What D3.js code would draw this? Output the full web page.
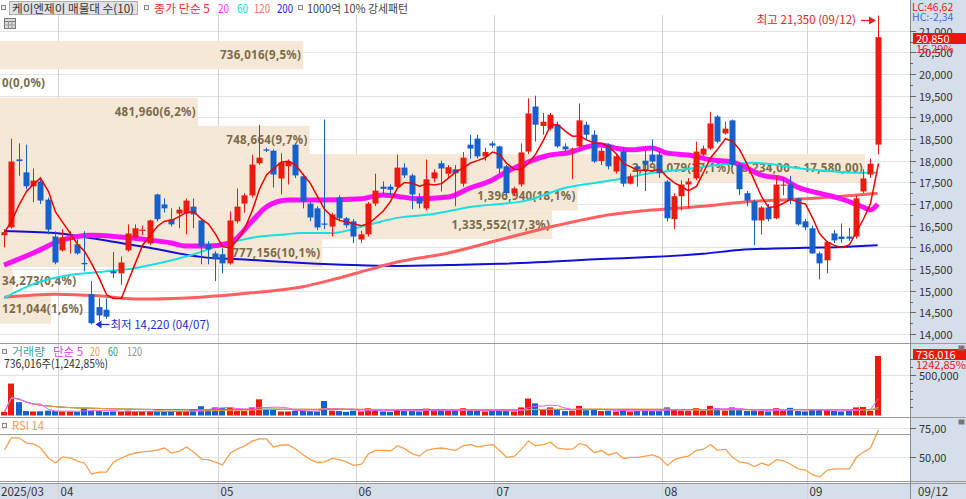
<!DOCTYPE html>
<html><head><meta charset="utf-8">
<script src="https://cdn.jsdelivr.net/npm/d3@7"></script>
<style>
html,body{margin:0;padding:0;background:#fff;overflow:hidden}
svg{display:block;font-family:"Noto Sans CJK KR","Noto Sans",sans-serif}
</style></head><body>
<svg id="c" width="966" height="499"></svg>
<script>
// ---------- DATA ----------
const opens=[16280,16460,18030,17730,17410,17520,17100,16250,15930,16180,
16070,15640,14920,14620,14560,15450,15400,15930,16230,16380,
16090,17220,16990,16650,16780,16780,16940,16620,16070,15860,
15840,15630,16600,17010,17200,17940,18260,18230,17590,17870,
18370,17640,17010,16900,16550,16480,17150,16670,16600,16180,
16300,17010,17400,17400,17400,17840,17660,17150,16900,17590,
17940,17700,17800,17470,18370,18510,18100,18400,18330,17870,
17250,17450,18210,19250,18800,18740,18830,18330,18260,18330,
18830,18600,17990,18370,17750,18210,17470,17870,18000,18140,
18140,17520,16650,17180,17450,17590,18140,18280,19020,18630,
18930,17910,17250,17060,16620,16920,16670,17430,17450,17130,
16600,16440,15860,15700,16320,16250,16250,16250,17290,17680,18370];
const highs=[16420,18510,18400,18370,17820,17610,17150,16370,16420,16370,
16180,16370,15220,14830,14820,15890,15790,16530,16530,16500,
16640,17240,17130,16900,16940,17130,17130,16640,16140,15910,
15980,16830,17360,17250,18140,18830,18300,18260,18170,18030,
18400,17700,17050,16950,18950,16800,17200,16700,16650,16380,
17050,17700,17520,17450,18140,17940,17700,17250,18030,17800,
18000,17900,17900,18200,18600,18600,18300,18450,18350,17900,
17400,18400,19440,19500,19100,19100,18900,18400,18300,19320,
18900,18700,18300,18400,18150,18300,17700,17900,18250,18490,
18200,17550,17250,17550,17600,18440,18350,19130,19050,18900,
18950,17950,17300,17100,16950,17000,17650,17600,17650,17150,
16650,16500,15900,16150,16400,16550,16450,17200,17800,18050,21350];
const lows=[16000,16430,17650,17340,17040,17000,16300,15610,15900,15860,
15830,15450,14220,14300,14350,15290,15130,15900,16200,16280,
16050,16600,16800,16480,16440,16300,16440,15610,15610,15220,
15400,15600,16550,16800,17150,17900,18200,17380,17220,17450,
17600,16900,16600,16400,16420,16250,16600,16450,16100,16100,
16250,16950,17230,17200,17350,17600,16880,16900,16850,17500,
17290,17600,16950,17400,18050,18050,18000,18300,17700,17200,
17200,17400,18150,18440,18600,18700,18300,18200,17570,18300,
18500,17950,17900,17800,17700,17400,17450,17400,17300,17950,
17600,16600,16420,16850,16900,17550,18100,18250,18400,18600,
17850,17200,16950,16050,16300,16600,16650,17200,17000,16500,
16400,15850,15260,15400,16100,16100,16150,16200,17250,17600,18150];
const closes=[16350,17980,17990,17410,17540,17080,16410,15650,16230,16210,
15860,15610,14250,14430,14400,15400,15650,16320,16440,16410,
16620,16650,16900,16530,16870,17080,16760,16020,15950,15720,
15630,16620,16940,17200,17910,18070,18230,17680,17960,17980,
17660,17060,16690,16460,16530,16760,16670,16510,16250,16300,
17010,17310,17350,17330,17840,17660,17220,17010,17570,17730,
17820,17850,17710,18070,18280,18100,18200,18350,17820,17250,
17360,18190,19090,18830,18900,19060,18330,18260,18280,18930,
18600,17980,18230,17870,18100,17470,17640,17800,17910,17980,
17710,16670,17180,17450,17520,18210,18280,18860,18440,18740,
17910,17340,17080,16620,16920,16650,17450,17450,17110,16530,
16460,15860,15630,16120,16160,16190,16200,17130,17590,17930,20850];
// volume, thousand shares
const volumeK=[45,395,165,55,50,52,60,55,50,48,
45,90,60,55,45,50,48,60,45,50,
55,50,45,48,50,52,80,115,80,100,
95,100,55,55,100,200,80,80,50,50,
60,60,55,50,180,60,55,45,60,50,
90,70,50,45,80,55,60,50,85,55,
60,55,60,90,65,60,50,55,70,60,
50,100,210,150,80,100,70,55,60,120,
65,70,55,60,50,80,50,55,60,55,
60,100,70,60,55,90,60,120,90,60,
100,70,55,60,55,50,90,60,95,55,
50,80,70,75,55,50,55,100,105,59.22,736.016];
const rsi14=[56.3,66.9,66.6,62.3,61.5,58.0,49.4,45.1,50.3,49.4,
46.8,45.1,35.6,37.3,37.3,45.9,49.4,52.0,53.7,54.6,
55.4,56.3,58.0,53.7,55.4,58.9,54.6,48.5,47.7,45.9,
43.4,53.7,57.2,59.7,64.1,65.8,65.8,58.9,60.6,60.6,
57.2,52,48,45.5,46,49,48,46,43,44,
53,56,56,55.5,60,57.5,53,51,56,57.5,
58,57,56,60,61,59,60,61,56,50,
51,57,64,60,61,63,58,57,57,62,
60,54,56,52,54,49,50,50,51,52,
50,43,48,50,51,56,57,61,56,57,
50,46,45,42,45,43,48,47,44,40,
39,35,33,39,40,40,40,50,54.5,58,73.5];
// moving averages (candle index -> price)
const ma5Head=[16350,16600,17000,17290];
const ma20Idx=[0,4,8,12,16,20,23,25,28,31,34,36,39,43,49,52,57,61,64,67,69,72,75,78,80,82,84,86,89,91,94,97,100,102,104,107,109,112,115,118,119,120];
const ma20Val=[15590,15870,16170,16280,16240,16170,16100,16030,16030,16100,16590,16930,17090,17090,17120,17210,17120,17160,17370,17550,17740,17970,18130,18200,18320,18360,18290,18250,18290,18180,18130,18020,17970,17830,17670,17580,17390,17250,17120,16930,16860,17000];
const ma60Idx=[0,4,9,13,18,22,27,29,34,38,41,45,50,54,59,64,72,77,82,86,89,93,98,103,110,118,120];
const ma60Val=[14830,15150,15360,15430,15520,15660,15890,16010,16220,16290,16330,16330,16520,16680,16770,16930,17090,17370,17510,17620,17720,17790,17900,17950,17810,17720,17720];
const ma120Idx=[0,7,13,18,20,27,34,41,45,50,54,61,68,75,82,89,96,102,110,120];
const ma120Val=[14850,14920,14880,14810,14810,14850,14950,15090,15250,15480,15660,15870,16170,16470,16720,16860,16950,17050,17120,17250];
const ma200Idx=[0,7,11,16,20,27,34,41,48,54,61,68,82,96,101,110,115,120];
const ma200Val=[16380,16330,16240,16100,15990,15780,15710,15640,15590,15570,15590,15620,15730,15850,15940,15990,16010,16050];
// price-level volume profile (매물대), top band first
const bandHigh=20760, bandStep=652;
const bandVol=[736016,0,481960,748664,2098079,1396940,1335552,777156,34273,121044];
const bandPct=[9.5,0,6.2,9.7,27.1,18.1,17.3,10.1,0.4,1.6];
const maxBandRange="(18,234,00 ~ 17,580,00)";
// axis / labels
const priceTicks=d3.range(14000,21001,500);
const monthStarts=[8,30,49,68,91,111];
const monthLabels=["04","05","06","07","08","09"];
const firstLabel="2025/03", lastLabel="09/12";
const hiVal=21350, hiDate="09/12", loVal=14220, loDate="04/07", loIdx=12;

// ---------- CHART ----------
const svg=d3.select('#c');
const N=closes.length;
const RED="#ec1a10", BLUE="#1560cc", AX="#d5dfeb";
const x=d3.scaleBand().domain(d3.range(N)).range([0.4,0.4+N*7.28]);
const cx=i=>Math.round(x(i)+x.bandwidth()/2)+0.5;
const y=d3.scaleLinear().domain([14000,21000]).range([334,30.7]);
const yv=d3.scaleLinear().domain([0,736016]).range([415.5,356]);
const yr=d3.scaleLinear().domain([50,75]).range([457.3,428.3]);
const fmt=d3.format(",");
const dec=(v,n)=>v.toFixed(n).replace('.',',');

svg.append('rect').attr('x',910).attr('y',0).attr('width',56).attr('height',499).attr('fill',AX);
svg.append('rect').attr('x',0).attr('y',483).attr('width',910).attr('height',16).attr('fill',AX);

svg.append('g').selectAll('line').data(priceTicks).join('line')
 .attr('x1',0).attr('x2',910).attr('y1',d=>Math.round(y(d))+0.5).attr('y2',d=>Math.round(y(d))+0.5)
 .attr('stroke','#e3e3e3');
svg.append('line').attr('x1',0).attr('x2',910).attr('y1',Math.round(yv(500000))+0.5).attr('y2',Math.round(yv(500000))+0.5).attr('stroke','#e3e3e3');
[[75,'#e3e3e3'],[50,'#e3e3e3'],[70,'#9a9a9a']].forEach(([v,c])=>{
 svg.append('line').attr('x1',0).attr('x2',910).attr('y1',Math.round(yr(v))+0.5).attr('y2',Math.round(yr(v))+0.5).attr('stroke',c);
});
const gx=i=>Math.round(x(i))-0.5;
svg.append('g').selectAll('line').data(monthStarts).join('line')
 .attr('x1',gx).attr('x2',gx).attr('y1',15).attr('y2',499).attr('stroke','#d4d4d4');

// volume profile bands
const bandMaxW=865, maxPct=d3.max(bandPct);
const bw=p=>p/maxPct*bandMaxW;
const bandG=svg.append('g');
bandPct.forEach((p,k)=>{
 const top=y(bandHigh-k*bandStep), bot=y(bandHigh-(k+1)*bandStep);
 if(p>0) bandG.append('rect').attr('x',0).attr('y',top).attr('width',bw(p)).attr('height',bot-top).attr('fill','#f6e8d6');
});
const lblG=svg.append('g').attr('font-size',11.5).attr('font-weight',700).attr('fill','#7d6a48').attr('font-family','"Noto Sans","Noto Sans CJK KR",sans-serif').attr('letter-spacing',0.3);
bandPct.forEach((p,k)=>{
 const top=y(bandHigh-k*bandStep), bot=y(bandHigh-(k+1)*bandStep);
 let s=fmt(bandVol[k])+"("+dec(p,1)+"%)";
 if(p===maxPct) s+=maxBandRange;
 const t=lblG.append('text').attr('y',(top+bot)/2+4).text(s);
 const w=t.node().getComputedTextLength();
 if(w+4<bw(p)) t.attr('x',bw(p)-2).attr('text-anchor','end'); else t.attr('x',2);
});

// moving averages
const line=d3.line().curve(d3.curveMonotoneX);
function ma(idx,val,color,w){
 svg.append('path').attr('d',line(idx.map((i,k)=>[x(i)+x.bandwidth()/2,y(val[k])]))).attr('fill','none').attr('stroke',color).attr('stroke-width',w).attr('stroke-linejoin','round');
}
ma(ma200Idx,ma200Val,'#1010d8',2);
ma(ma120Idx,ma120Val,'#ff6060',3);
ma(ma60Idx,ma60Val,'#18e0e0',2);
ma(ma20Idx,ma20Val,'#ff10ff',5);

// candles
const cg=svg.append('g');
closes.forEach((c,i)=>{
 const o=opens[i], up=c>=o, col=up?RED:BLUE;
 cg.append('line').attr('x1',cx(i)).attr('x2',cx(i)).attr('y1',y(highs[i])).attr('y2',y(lows[i])).attr('stroke',col).attr('stroke-width',1);
 const t=y(Math.max(o,c)), b=y(Math.min(o,c));
 cg.append('rect').attr('x',cx(i)-3).attr('y',t).attr('width',6).attr('height',Math.max(1.2,b-t)).attr('fill',col);
});
const ma5=closes.map((c,i)=>i<4?ma5Head[i]:d3.mean(closes.slice(i-4,i+1)));
svg.append('path').attr('d',d3.line()(ma5.map((v,i)=>[cx(i),y(v)]))).attr('fill','none').attr('stroke','#f00000').attr('stroke-width',1.5);

// high / low annotations
svg.append('text').attr('x',856).attr('y',24).attr('text-anchor','end').attr('font-size',11.5).attr('fill','#e82020').text('최고 '+fmt(hiVal)+' ('+hiDate+')');
svg.append('line').attr('x1',861).attr('x2',872).attr('y1',20.5).attr('y2',20.5).attr('stroke','#e82020').attr('stroke-width',1.3);
svg.append('path').attr('d','M876,20.5 L869,16.5 L869,24.5 Z').attr('fill','#e82020');
const lx=cx(loIdx)+4, ly=Math.round(y(loVal))+0.5;
svg.append('path').attr('d',`M${lx},${ly} L${lx+6},${ly-4} L${lx+6},${ly+4} Z`).attr('fill','#2030d0');
svg.append('line').attr('x1',lx+5).attr('x2',lx+14).attr('y1',ly).attr('y2',ly).attr('stroke','#2030d0').attr('stroke-width',1.3);
svg.append('text').attr('x',lx+15).attr('y',ly+4).attr('font-size',11.5).attr('fill','#2030d0').text('최저 '+fmt(loVal)+' ('+loDate+')');

// volume bars
const vols=volumeK.map(v=>v*1000);
const vg=svg.append('g');
vols.forEach((v,i)=>{
 const col=closes[i]>=opens[i]?RED:BLUE;
 vg.append('rect').attr('x',cx(i)-3.5).attr('y',yv(v)).attr('width',6).attr('height',yv(0)-yv(v)).attr('fill',col);
});
const vma=n=>vols.map((_,i)=>d3.mean(vols.slice(Math.max(0,i-n+1),i+1)));
[[120,'#a8a8a8'],[60,'#38a050'],[20,'#f0a030'],[5,'#ff50ff']].forEach(([n,c])=>{
 svg.append('path').attr('d',d3.line()(vma(n).map((v,i)=>[cx(i),yv(v)]))).attr('fill','none').attr('stroke',c).attr('stroke-width',1);
});

// RSI line
svg.append('path').attr('d',d3.line()(rsi14.map((v,i)=>[cx(i),yr(v)]))).attr('fill','none').attr('stroke','#f7a050').attr('stroke-width',1.3);

// pane separators
[343.5,417.5,481.5,483.5].forEach(yy=>{
 svg.append('line').attr('x1',0).attr('x2',966).attr('y1',yy).attr('y2',yy).attr('stroke','#9a9a9a');
});
svg.append('line').attr('x1',910.5).attr('x2',910.5).attr('y1',0).attr('y2',499).attr('stroke','#8a8a8a');

// right axis: price
const FS=11;
const ax=svg.append('g').attr('font-size',FS).attr('fill','#333');
d3.range(14000,21001,250).forEach(p=>{
 const yy=Math.round(y(p))+0.5, major=p%500===0;
 ax.append('line').attr('x1',910).attr('x2',major?916:913).attr('y1',yy).attr('y2',yy).attr('stroke','#666');
 if(major) ax.append('text').attr('x',919).attr('y',yy+4).text(fmt(p));
});
const last=closes[N-1], prev=closes[N-2];
svg.append('rect').attr('x',913).attr('y',33).attr('width',53).attr('height',11).attr('fill','#e8180c');
svg.append('text').attr('x',916).attr('y',42.5).attr('font-size',FS).attr('fill','#fff').text(fmt(last));
svg.append('text').attr('x',916).attr('y',53).attr('font-size',FS).attr('fill','#e82020').text(dec((last/prev-1)*100,2)+'%');
svg.append('text').attr('x',912).attr('y',10.5).attr('font-size',10.5).attr('fill','#e82020').text('LC:46,62');
svg.append('text').attr('x',912).attr('y',21).attr('font-size',10.5).attr('fill','#3a6fd8').text('HC:-2,34');

// right axis: volume
d3.range(100000,700001,100000).forEach(v=>{
 const yy=Math.round(yv(v))+0.5, major=v===500000;
 svg.append('line').attr('x1',910).attr('x2',major?916:913).attr('y1',yy).attr('y2',yy).attr('stroke','#666');
 if(major) svg.append('text').attr('x',919).attr('y',yy+4).attr('font-size',FS).attr('fill','#333').text(fmt(v));
});
svg.append('rect').attr('x',913).attr('y',349).attr('width',53).attr('height',11).attr('fill','#e8180c');
svg.append('text').attr('x',916).attr('y',358.5).attr('font-size',FS).attr('fill','#fff').text(fmt(vols[N-1]));
svg.append('text').attr('x',916).attr('y',369).attr('font-size',FS).attr('fill','#e82020').text(dec(vols[N-1]/vols[N-2]*100,2)+'%');

// right axis: RSI
[75,50].forEach(v=>{
 const yy=Math.round(yr(v))+0.5;
 svg.append('line').attr('x1',910).attr('x2',916).attr('y1',yy).attr('y2',yy).attr('stroke','#666');
 svg.append('text').attr('x',919).attr('y',yy+4).attr('font-size',FS).attr('fill','#333').text(dec(v,2));
});
[[958,345],[958,419]].forEach(([a,b])=>{
 svg.append('rect').attr('x',a+0.5).attr('y',b+0.5).attr('width',6).attr('height',5).attr('fill','#777');
});

// x axis labels
const xl=svg.append('g').attr('font-size',FS+0.5).attr('fill','#333');
xl.append('text').attr('x',1).attr('y',496).text(firstLabel);
monthStarts.forEach((m,k)=>xl.append('text').attr('x',gx(m)+2).attr('y',496).text(monthLabels[k]));
xl.append('text').attr('x',918).attr('y',496).text(lastLabel);

// headers
function icon(xx,yy){svg.append('rect').attr('x',xx+0.5).attr('y',yy+0.5).attr('width',4).attr('height',4).attr('fill','#f0f0f0').attr('stroke','#8a8a8a');}
function txt(xx,yy,s,c,len){
 const t=svg.append('text').attr('x',xx).attr('y',yy).attr('font-size',11.5).attr('fill',c).text(s);
 if(len) t.attr('textLength',len).attr('lengthAdjust','spacingAndGlyphs');
 return t;
}
icon(1,5);
svg.append('rect').attr('x',9.5).attr('y',1.5).attr('width',128).attr('height',13).attr('fill','#e2e2e2').attr('stroke','#b0b0b0');
txt(12,12.5,'케이엔제이 매물대 수(10)','#333',122);
icon(144,5);
txt(154,12.5,'종가 단순 5','#f02a2a',56);
txt(218,12.5,'20','#ff30ff',11);
txt(237,12.5,'60','#20d8d8',11);
txt(254,12.5,'120','#ff6a6a',16);
txt(277,12.5,'200','#2020e0',16);
icon(298,5);
txt(307,12.5,'1000억 10% 강세패턴','#444',101);
const ti=svg.append('g').attr('transform','translate(4.5,18.5)');
ti.append('rect').attr('width',11).attr('height',10).attr('fill','#dcdcdc').attr('stroke','#777');
ti.append('line').attr('x1',0).attr('x2',11).attr('y1',3).attr('y2',3).attr('stroke','#777');
ti.append('line').attr('x1',4).attr('x2',4).attr('y1',3).attr('y2',10).attr('stroke','#999');
ti.append('line').attr('x1',7.5).attr('x2',7.5).attr('y1',3).attr('y2',10).attr('stroke','#999');
ti.append('line').attr('x1',0).attr('x2',11).attr('y1',6.5).attr('y2',6.5).attr('stroke','#999');

icon(2,349);
txt(12,356,'거래량','#3aa6a6',33);
txt(53,356,'단순 5','#e040e0',30);
txt(90,356,'20','#f0a030',10);
txt(108,356,'60','#38a050',10);
txt(127,356,'120','#909090',15);
txt(4,368,fmt(vols[N-1])+'주('+d3.format(',.2f')(vols[N-1]/vols[N-2]*100).replace('.',',')+'%)','#333',104);
icon(2,423);
txt(12,430,'RSI 14','#f59a50',32);
</script>
</body></html>
